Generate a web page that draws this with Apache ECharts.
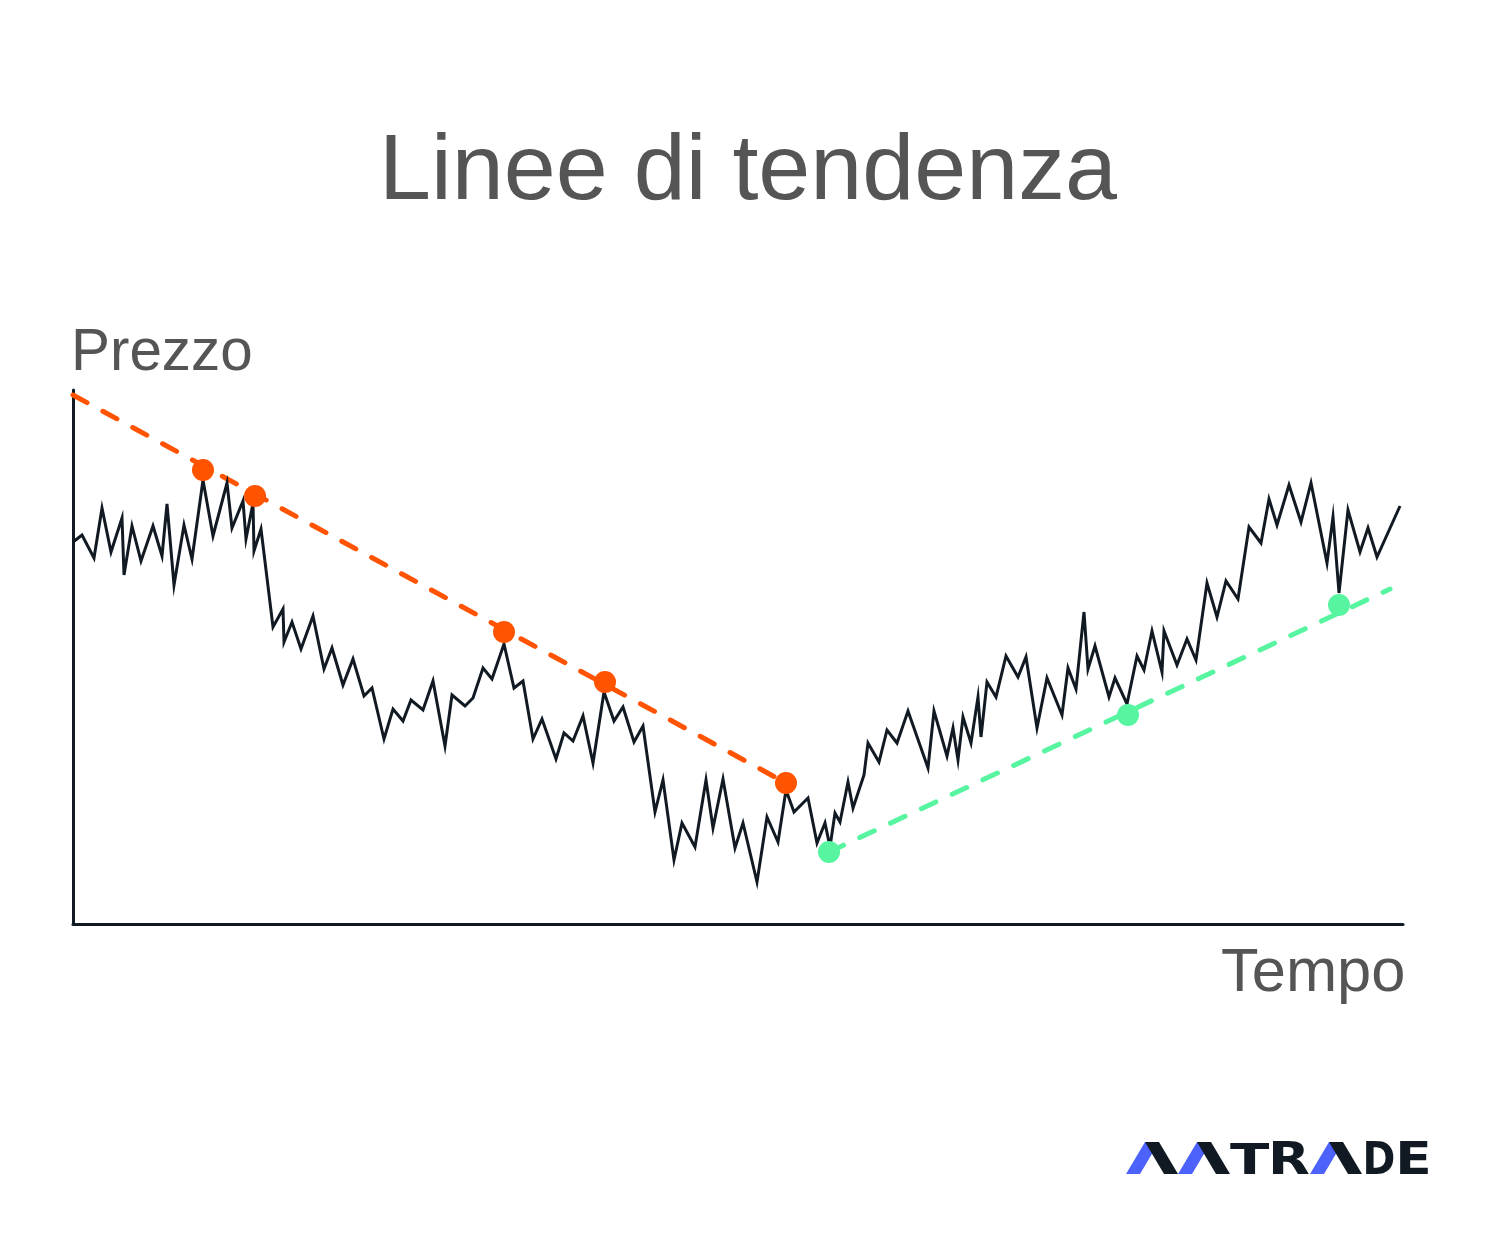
<!DOCTYPE html>
<html>
<head>
<meta charset="utf-8">
<script src="https://cdn.jsdelivr.net/npm/echarts@6/dist/echarts.min.js"></script>
<style>
html,body{margin:0;padding:0;background:#ffffff;}
#chart{width:1505px;height:1238px;}
</style>
</head>
<body>
<div id="chart"></div>
<script>
// ---- data (time units along x, price units along y) ----
var priceTime = [0,9,21,29,38,49,51,59,68,80,89,94,101,111,119,130,140,154,159,170,173,180,181,188,
  200,210,211,219,228,240,251,259,270,280,291,299,311,320,330,338,350,360,372,379,392,400,410,419,431,
  441,450,460,469,483,491,500,510,520,531,541,550,561,570,582,590,601,609,622,633,640,650,662,670,684,694,705,
  713,721,735,744,752,757,762,767,775,780,791,795,806,814,824,835,855,861,874,880,885,890,898,905,908,914,923,
  933,945,953,964,974,989,995,1003,1011,1015,1022,1036,1042,1054,1064,1071,1079,1089,1091,1104,1114,1123,
  1134,1144,1153,1165,1176,1188,1196,1204,1216,1228,1238,1254,1260,1266,1275,1287,1295,1304,1327];
var priceValues = [382,389,366,416,372,406,349,398,363,398,368,420,339,399,365,444,388,441,396,423,385,421,373,395,
  297,315,282,302,275,308,255,276,239,265,228,236,185,215,203,224,214,243,178,229,218,226,256,245,280,
  236,243,185,205,165,191,183,208,161,232,203,217,182,198,112,144,64,101,77,144,96,145,76,101,42,107,82,
  134,112,126,81,101,77,111,102,142,116,149,181,162,194,181,213,156,213,168,196,164,207,181,227,187,242,227,
  268,247,267,196,246,209,256,235,312,255,278,227,246,220,268,254,293,252,293,259,285,264,
  341,307,343,325,397,381,425,399,439,402,441,361,407,331,414,372,396,367,418];

var resistanceTime = [0, 713];
var resistancePrice = [529, 141];
var resistanceTouchTime = [130, 182, 431, 532, 713];
var resistanceTouchPrice = [454, 428, 292, 242, 141];

var supportTime = [756, 1317];
var supportPrice = [72, 335];
var supportTouchTime = [756, 1055, 1266];
var supportTouchPrice = [72, 209, 319];

var titleText = 'Linee di tendenza';
var yAxisName = 'Prezzo';
var xAxisName = 'Tempo';
var logoParts = ['T', 'R', 'D', 'E'];

function pairs(xs, ys) { return xs.map(function (x, i) { return [x, ys[i]]; }); }

// ---- text fitting helper (measures ink with canvas) ----
var mctx = document.createElement('canvas').getContext('2d');
function fitText(text, family, weight, inkLeft, inkRight, baseline, refChar, scaleXOnly, capHeight) {
  mctx.textBaseline = 'middle';
  mctx.textAlign = 'left';
  var size = 100;
  mctx.font = weight + ' ' + size + 'px ' + family;
  var m = mctx.measureText(text);
  var w = m.actualBoundingBoxRight + m.actualBoundingBoxLeft;
  var sx = 1;
  if (scaleXOnly) {
    var r = mctx.measureText(refChar);
    var ch = r.actualBoundingBoxAscent + r.actualBoundingBoxDescent;
    size = 100 * capHeight / ch;
    mctx.font = weight + ' ' + size + 'px ' + family;
    m = mctx.measureText(text);
    w = m.actualBoundingBoxRight + m.actualBoundingBoxLeft;
    sx = (inkRight - inkLeft) / w;
  } else {
    size = 100 * (inkRight - inkLeft) / w;
    mctx.font = weight + ' ' + size + 'px ' + family;
    m = mctx.measureText(text);
  }
  var rm = mctx.measureText(refChar);
  return {
    x: inkLeft + m.actualBoundingBoxLeft * sx,
    y: baseline - rm.actualBoundingBoxDescent,
    size: size,
    sx: sx
  };
}

function textEl(text, family, weight, color, fit) {
  return {
    type: 'text',
    x: fit.x, y: fit.y,
    scaleX: fit.sx, originX: 0, originY: 0,
    z: 10,
    style: {
      text: text,
      fill: color,
      font: weight + ' ' + fit.size + 'px ' + family,
      textAlign: 'left',
      textVerticalAlign: 'middle'
    }
  };
}

var textFamily = '"Liberation Sans", Arial, sans-serif';
var textColor = '#555555';
var titleFit = fitText(titleText, textFamily, 'normal', 386, 1117, 199, 'L');
var yNameFit = fitText(yAxisName, textFamily, 'normal', 75, 250, 370, 'P');
var xNameFit = fitText(xAxisName, textFamily, 'normal', 1222, 1403, 991, 'T');

// ---- logo ----
var logoBlue = '#4C62FA';
var logoDark = '#111A22';
var logoFamily = '"DejaVu Sans", sans-serif';
var logoTop = 1142, logoBottom = 1174;
function stroke(bl, dir, color) {
  // slanted stroke: bottom-left x, direction +1 (/) or -1 (\)
  var w = 14, s = 19;
  var pts = dir > 0
    ? [[bl, logoBottom], [bl + w, logoBottom], [bl + w + s, logoTop], [bl + s, logoTop]]
    : [[bl - s, logoTop], [bl - s + w, logoTop], [bl + w, logoBottom], [bl, logoBottom]];
  return { type: 'polygon', z: 10, shape: { points: pts }, style: { fill: color } };
}
var logoEls = [
  stroke(1126, 1, logoBlue), stroke(1164, -1, logoDark),
  stroke(1178, 1, logoBlue), stroke(1216, -1, logoDark),
  stroke(1310, 1, logoBlue), stroke(1348, -1, logoDark)
];
var logoBoxes = [[1230, 1270], [1273, 1309], [1366, 1394], [1400, 1428]];
logoParts.forEach(function (ch, i) {
  var f = fitText(ch, logoFamily, 'bold', logoBoxes[i][0], logoBoxes[i][1], logoBottom, ch, true, logoBottom - logoTop);
  logoEls.push(textEl(ch, logoFamily, 'bold', logoDark, f));
});

var chart = echarts.init(document.getElementById('chart'), null, { renderer: 'canvas' });
var axisColor = '#111A22';
var orange = '#FF5300';
var green = '#57F5A0';

chart.setOption({
  animation: false,
  backgroundColor: '#ffffff',
  grid: { left: 73, top: 390, width: 1330, height: 534 },
  xAxis: {
    type: 'value', min: 0, max: 1330,
    axisLine: { show: true, onZero: false, lineStyle: { color: axisColor, width: 3 } },
    axisTick: { show: false }, axisLabel: { show: false }, splitLine: { show: false }
  },
  yAxis: {
    type: 'value', min: 0, max: 534,
    axisLine: { show: true, onZero: false, lineStyle: { color: axisColor, width: 3 } },
    axisTick: { show: false }, axisLabel: { show: false }, splitLine: { show: false }
  },
  series: [
    {
      type: 'line', data: pairs(resistanceTime, resistancePrice), showSymbol: false, silent: true, z: 1,
      lineStyle: { color: orange, width: 5, type: [16, 18], cap: 'round' }
    },
    {
      type: 'line', data: pairs(supportTime, supportPrice), showSymbol: false, silent: true, z: 1,
      lineStyle: { color: green, width: 5, type: [16, 18], cap: 'round' }
    },
    {
      type: 'line', data: pairs(priceTime, priceValues), showSymbol: false, silent: true, z: 2,
      lineStyle: { color: axisColor, width: 3, join: 'miter', miterLimit: 10 }
    },
    {
      type: 'scatter', data: pairs(resistanceTouchTime, resistanceTouchPrice), symbolSize: 22, z: 3,
      itemStyle: { color: orange, opacity: 1 }
    },
    {
      type: 'scatter', data: pairs(supportTouchTime, supportTouchPrice), symbolSize: 22, z: 3,
      itemStyle: { color: green, opacity: 1 }
    }
  ],
  graphic: [
    textEl(titleText, textFamily, 'normal', textColor, titleFit),
    textEl(yAxisName, textFamily, 'normal', textColor, yNameFit),
    textEl(xAxisName, textFamily, 'normal', textColor, xNameFit)
  ].concat(logoEls)
});
</script>
</body>
</html>
